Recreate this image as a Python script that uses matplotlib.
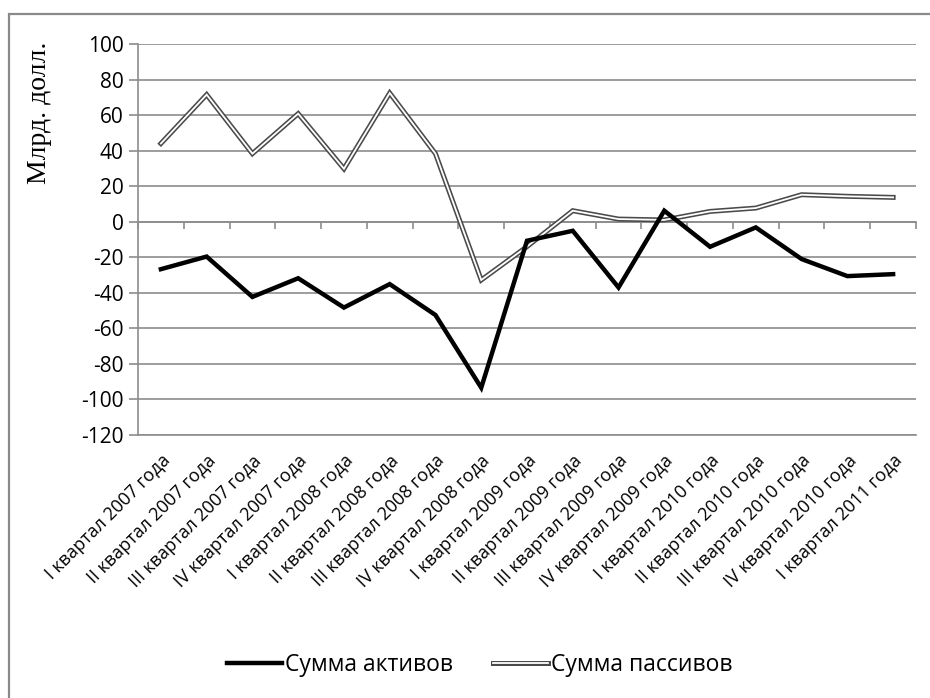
import matplotlib
matplotlib.use("Agg")
import matplotlib.pyplot as plt
from matplotlib import font_manager
from matplotlib.lines import Line2D
from matplotlib.legend_handler import HandlerTuple
from matplotlib.patches import Rectangle
import numpy as np

quarters = ["I квартал 2007 года", "II квартал 2007 года", "III квартал 2007 года",
            "IV квартал 2007 года", "I квартал 2008 года", "II квартал 2008 года",
            "III квартал 2008 года", "IV квартал 2008 года", "I квартал 2009 года",
            "II квартал 2009 года", "III квартал 2009 года", "IV квартал 2009 года",
            "I квартал 2010 года", "II квартал 2010 года", "III квартал 2010 года",
            "IV квартал 2010 года", "I квартал 2011 года"]
assets = [-26.7, -19.6, -42.3, -31.8, -48.3, -35.1, -52.5, -93.4, -10.7,
          -5.1, -37.0, 6.2, -14.1, -3.2, -21.0, -30.6, -29.5]
liabilities = [44.0, 71.5, 38.3, 60.8, 29.8, 72.4, 38.3, -32.8, -14.0,
               6.2, 1.5, 1.0, 5.8, 7.7, 15.2, 14.3, 13.7]
y_ticks = list(range(-120, 101, 20))

available = {f.name for f in font_manager.fontManager.ttflist}
sans = [f for f in ["Open Sans", "DejaVu Sans"] if f in available]
serif = [f for f in ["Liberation Serif", "DejaVu Serif"] if f in available]
plt.rcParams['font.family'] = sans
plt.rcParams['axes.unicode_minus'] = False

fig = plt.figure(figsize=(9.3, 6.98), dpi=100)
ax = fig.add_axes([138 / 930, 1 - 435 / 698, 778 / 930, 391 / 698])

x = np.arange(len(quarters))
grid_col = "#8c8c8c"

# assets: thick black line
ax.plot(x, assets, color="black", lw=3.2, solid_joinstyle="miter", zorder=4)
# liabilities: double line (dark gray outline, white core)
ax.plot(x, liabilities, color="#4a4a4a", lw=3.6, solid_joinstyle="miter", zorder=3)
ax.plot(x, liabilities, color="white", lw=1.3, solid_joinstyle="miter", zorder=3.5)

ax.set_xlim(-0.5, len(quarters) - 0.5)
ax.set_ylim(-120, 100)
ax.set_yticks(y_ticks)
ax.yaxis.grid(True, color=grid_col, lw=1.2)
ax.set_axisbelow(True)

for s in ["top", "right"]:
    ax.spines[s].set_visible(False)
for s in ["left", "bottom"]:
    ax.spines[s].set_color(grid_col)
    ax.spines[s].set_linewidth(1.2)

ax.tick_params(axis="y", length=6.5, width=1.2, color=grid_col, pad=4, labelsize=15)
ax.set_xticks(x)
ax.set_xticklabels(quarters, rotation=45, ha="right", rotation_mode="anchor", fontsize=13)
ax.tick_params(axis="x", length=0, pad=12)

# horizontal axis crossing at zero, with ticks between categories
zero_pos = (0 - ax.get_ylim()[0]) / (ax.get_ylim()[1] - ax.get_ylim()[0])
sec = ax.secondary_xaxis(zero_pos)
sec.set_xticks(np.arange(len(quarters) + 1) - 0.5)
sec.set_xticklabels([])
sec.xaxis.set_ticks_position("bottom")
sec.tick_params(axis="x", direction="out", length=5, width=1.2, color=grid_col)
for s in sec.spines.values():
    s.set_color(grid_col)
    s.set_linewidth(1.2)

ax.set_ylabel("Млрд. долл.", family=serif, fontsize=20)
ax.yaxis.set_label_coords(-0.1105, 0.823)

h_assets = Line2D([], [], color="black", lw=3.2)
h_liab = (Line2D([], [], color="#4a4a4a", lw=3.6), Line2D([], [], color="white", lw=1.3))
fig.legend([h_assets, h_liab], ["Сумма активов", "Сумма пассивов"],
           handler_map={tuple: HandlerTuple(ndivide=1)},
           loc="center", bbox_to_anchor=(480 / 930, 1 - 665 / 698), ncol=2,
           frameon=False, fontsize=16.5, handlelength=2.4, handletextpad=0.12,
           columnspacing=1.75)

fig.patches.append(Rectangle((9 / 930, -0.05), 1.2, 1.03,
                             transform=fig.transFigure, fill=False,
                             edgecolor="#8a8a8a", lw=1.6))

fig.savefig("out.png", dpi=100)
